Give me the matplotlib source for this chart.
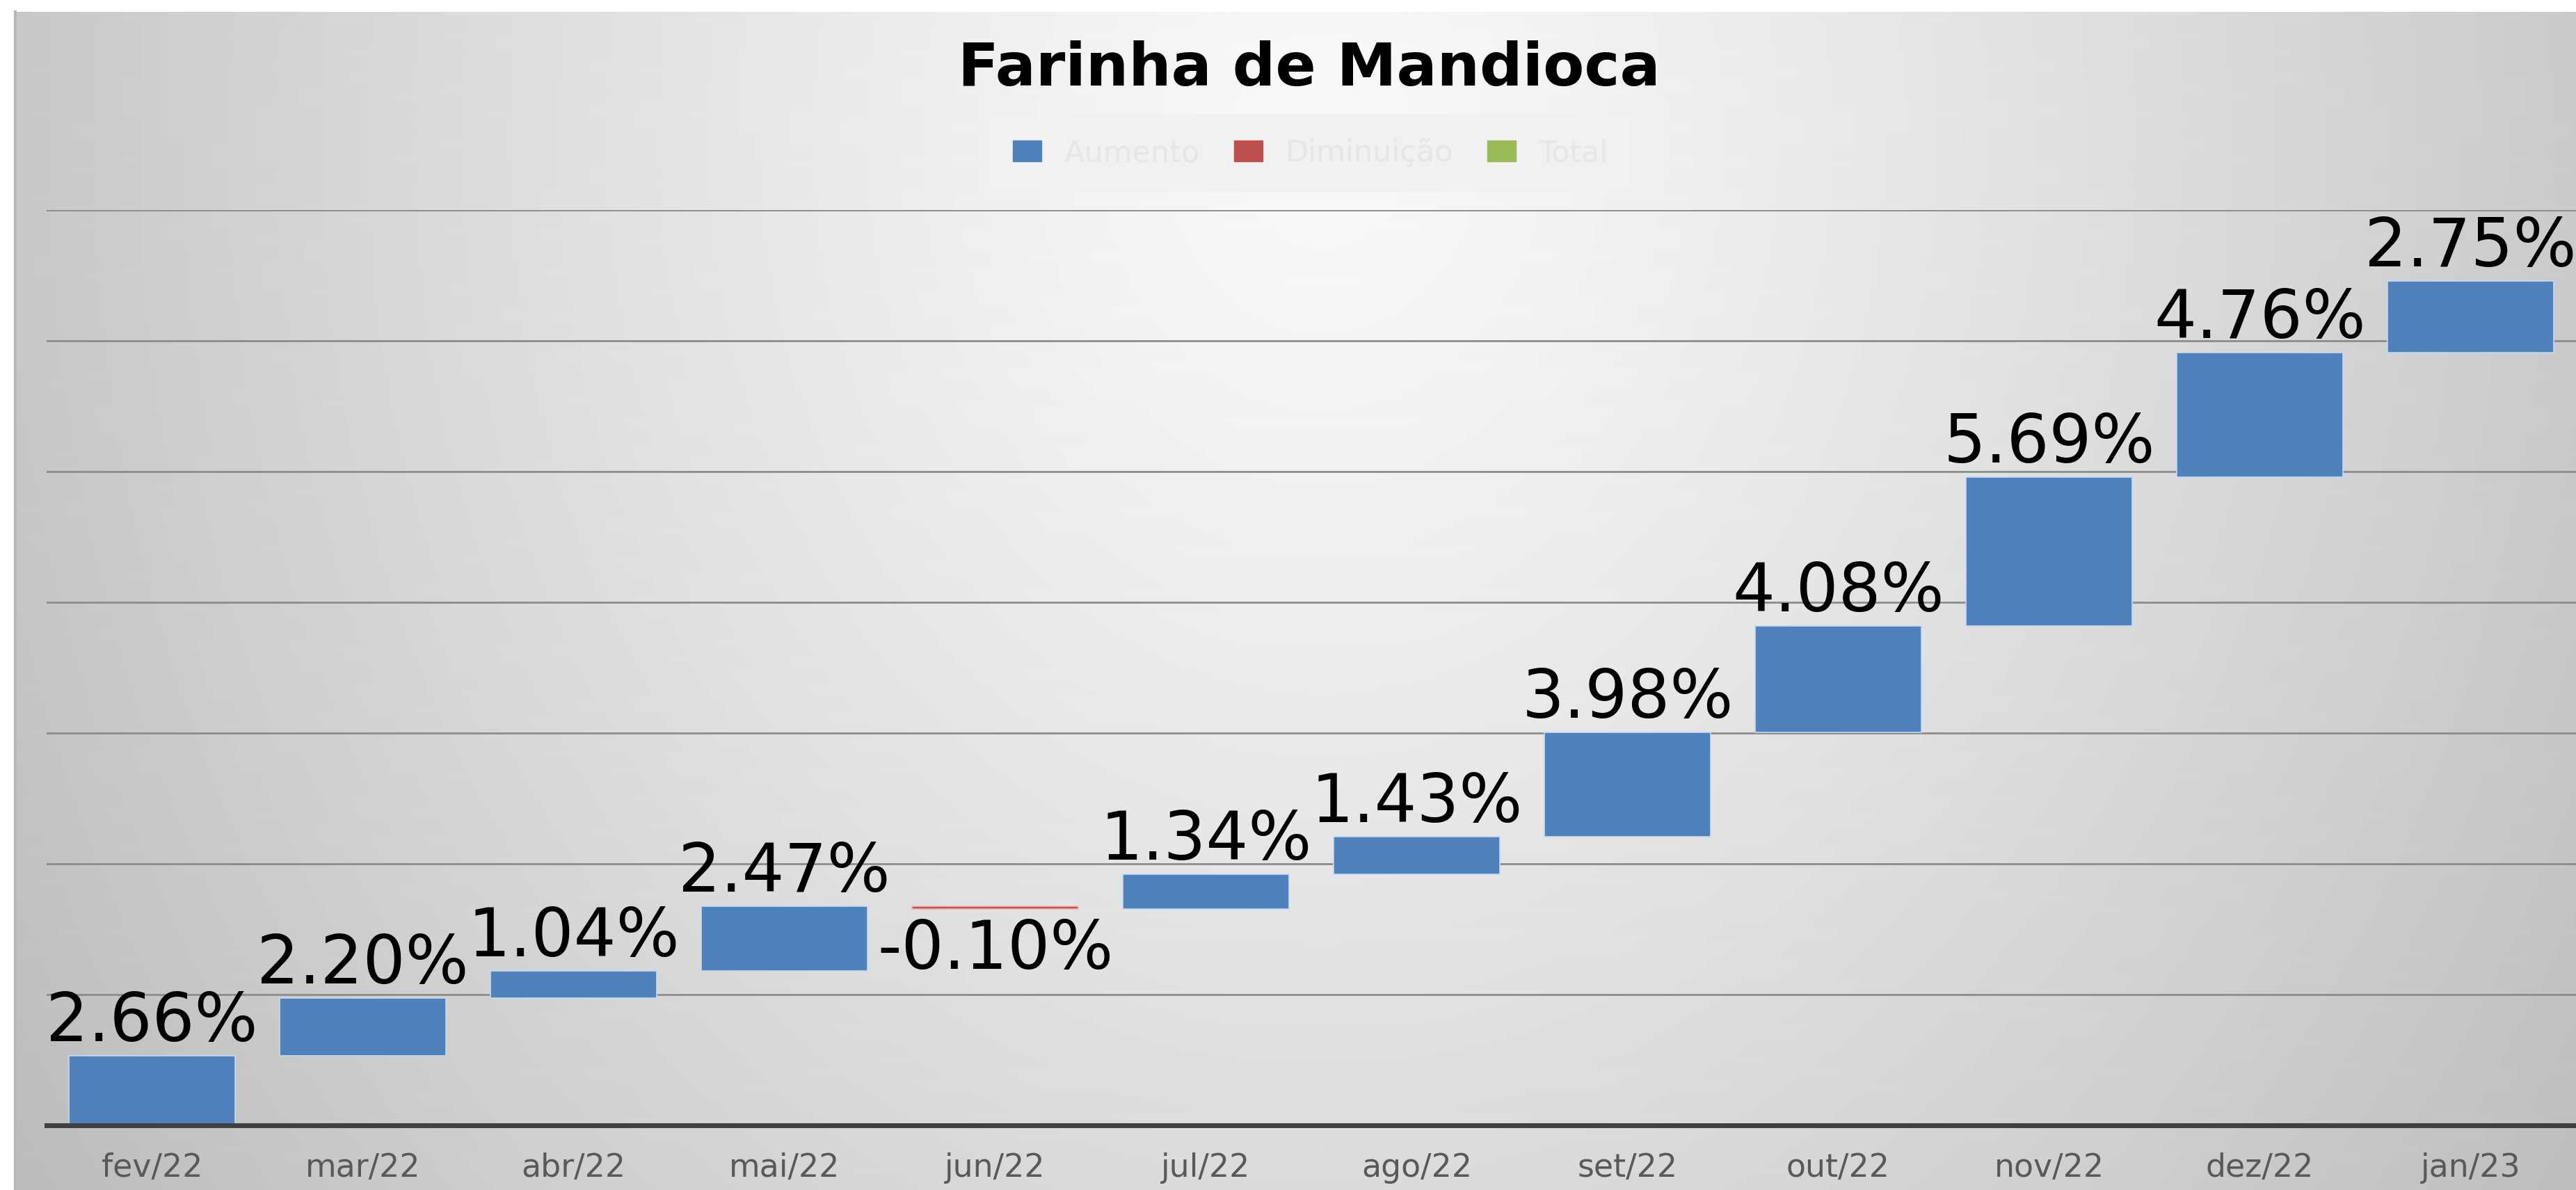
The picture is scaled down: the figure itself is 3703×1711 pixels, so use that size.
import numpy as np
import matplotlib.pyplot as plt
from matplotlib.patches import Patch

months = ['fev/22', 'mar/22', 'abr/22', 'mai/22', 'jun/22', 'jul/22',
          'ago/22', 'set/22', 'out/22', 'nov/22', 'dez/22', 'jan/23']
changes = [2.66, 2.20, 1.04, 2.47, -0.10, 1.34, 1.43, 3.98, 4.08, 5.69, 4.76, 2.75]

W, H = 3703, 1711
fig = plt.figure(figsize=(W / 100, H / 100), dpi=100)
fig.patch.set_facecolor('white')

# gradient chart area (light centre near the title, grey edges)
bg = fig.add_axes([22 / W, 0, 1 - 22 / W, 1 - 17 / H])
yy, xx = np.mgrid[17:H:3, 22:W:3]
d = np.sqrt(((xx - 1900) / 1900.0) ** 2 + ((yy - 200) / 2300.0) ** 2)
g = np.clip(249 - 50 * d ** 1.2, 185, 250) / 255.0
bg.imshow(g, cmap='gray', vmin=0, vmax=1, aspect='auto', interpolation='bilinear')
bg.axis('off')
fig.add_artist(plt.Line2D([22 / W, 22 / W], [0, 1 - 17 / H], color='#b8b8b8', lw=3))

ax = fig.add_axes([67 / W, 1 - 1618 / H, 1 - 67 / W, (1618 - 302) / H])
ax.set_facecolor('none')

x = np.arange(len(months))
bottoms = np.concatenate([[0], np.cumsum(changes)[:-1]])
colors = ['#4f81bd' if c >= 0 else '#c0504d' for c in changes]
edges = ['#c6d9f1' if c >= 0 else '#f2b8b8' for c in changes]
ax.bar(x, changes, bottom=bottoms, width=0.79, color=colors,
       edgecolor=edges, linewidth=1.2, zorder=3)

for xi, b, c in zip(x, bottoms, changes):
    if c >= 0:
        ax.annotate(f'{c:.2f}%', (xi, b + c), xytext=(0, 15), textcoords='offset points',
                    ha='center', va='baseline', fontsize=69, color='black', zorder=5)
    else:
        ax.annotate(f'{c:.2f}%', (xi, b + c), xytext=(0, -9), textcoords='offset points',
                    ha='center', va='top', fontsize=69, color='black', zorder=5)

ax.set_xlim(-0.5, 11.5)
ax.set_ylim(0, 35)
ax.set_yticks(range(5, 36, 5))
ax.yaxis.grid(True, color='#8c8c8c', lw=2)
ax.set_axisbelow(True)
ax.tick_params(axis='y', left=False, labelleft=False)
ax.set_xticks(x, months)
ax.tick_params(axis='x', length=0, pad=28, labelsize=33, labelcolor='#595959')
for s in ax.spines.values():
    s.set_visible(False)
ax.axhline(0, color='#404040', lw=5, zorder=4, clip_on=False)

fig.text(1882 / W, 1 - 99 / H, 'Farinha de Mandioca', ha='center', va='center',
         fontsize=62, fontweight='bold', color='black')

handles = [Patch(color='#4f81bd', label='Aumento'),
           Patch(color='#c0504d', label='Diminuição'),
           Patch(color='#9bbb59', label='Total')]
fig.legend(handles=handles, loc='center', bbox_to_anchor=(1884 / W, 1 - 220 / H), ncol=3,
           fontsize=31, frameon=True, facecolor='#f1f1f1', edgecolor='none', framealpha=1,
           labelcolor='#e6e6e6', handlelength=0.95, handleheight=0.7, handletextpad=0.75,
           columnspacing=1.15, borderpad=0.8, fancybox=False)

fig.savefig('out.png', dpi=100)
